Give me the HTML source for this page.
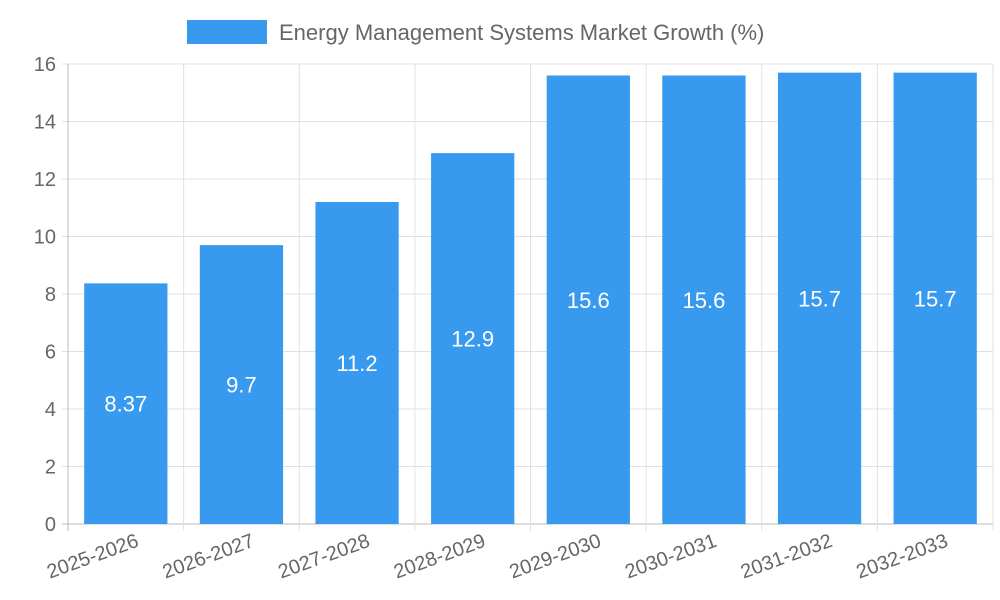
<!DOCTYPE html>
<html><head><meta charset="utf-8"><style>
html,body{margin:0;padding:0;background:#fff;width:1000px;height:600px;overflow:hidden}
text{font-family:"Liberation Sans",sans-serif}
</style></head><body>
<svg id="chart" width="1000" height="600">
<g>
<rect x="187" y="20" width="80" height="24" fill="#379AEF"/>
<text x="279" y="40" font-size="22" fill="#666">Energy Management Systems Market Growth (%)</text>
</g>
<g id="grid"></g><g id="bars"></g><g id="labels"></g>
</svg>
<script>
const categories=["2025-2026","2026-2027","2027-2028","2028-2029","2029-2030","2030-2031","2031-2032","2032-2033"];
const growthValues=[8.37,9.7,11.2,12.9,15.6,15.6,15.7,15.7];
const valueLabels=["8.37","9.7","11.2","12.9","15.6","15.6","15.7","15.7"];
const yTicks=[0,2,4,6,8,10,12,14,16];
const X0=68,X1=993,Y0=524,Y1=64,YMAX=16;
const ns="http://www.w3.org/2000/svg";
const band=(X1-X0)/categories.length;
const xPos=i=>X0+band*i;
const yPos=v=>Y0-(v/YMAX)*(Y0-Y1);
function mk(t,a,p){const e=document.createElementNS(ns,t);for(const k in a)e.setAttribute(k,a[k]);p.appendChild(e);return e;}
const grid=document.getElementById('grid'),bars=document.getElementById('bars'),labels=document.getElementById('labels');
yTicks.forEach(t=>{const y=yPos(t);
const l=mk('line',{x1:X0-6,x2:X1,y1:y,y2:y,stroke:t===0?'#bbb':'#e0e0e0','stroke-width':1},grid);


const tx=mk('text',{x:X0-12,y:y+7,'text-anchor':'end','font-size':20,fill:'#666'},grid);
tx.textContent=t;

});
for(let i=0;i<=categories.length;i++){const x=xPos(i);
const l=mk('line',{x1:x,x2:x,y1:Y1,y2:Y0+7,stroke:i===0?'#bbb':'#e0e0e0','stroke-width':1},grid);

}
categories.forEach((c,i)=>{const v=growthValues[i];const bw=band*0.72;const x=xPos(i)+(band-bw)/2;const y=yPos(v);
const r=mk('rect',{x:x,y:y,width:bw,height:Y0-y,fill:'#379AEF'},bars);


const t=mk('text',{x:xPos(i)+band/2,y:(y+Y0)/2+8,'text-anchor':'middle','font-size':22,fill:'#fff'},bars);
t.textContent=valueLabels[i];


const cx=xPos(i)+band/2+14,cy=Y0+22;
const xl=mk('text',{x:cx,y:cy,'text-anchor':'end','font-size':20,fill:'#666',transform:`rotate(-20 ${cx} ${cy})`},labels);
xl.textContent=c;

});
</script>
</body></html>
